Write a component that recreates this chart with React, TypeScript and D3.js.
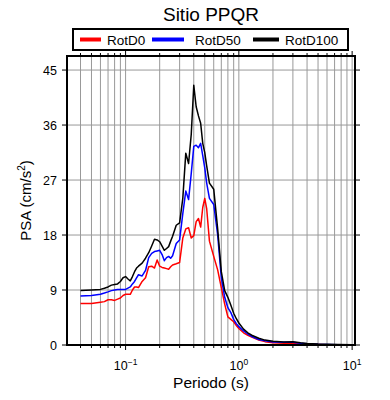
import * as d3 from 'd3'

// Periods (s)
const periods = [
  0.04, 0.05, 0.06, 0.065, 0.07, 0.075, 0.08, 0.085, 0.09, 0.095,
  0.1, 0.105, 0.11, 0.115, 0.12, 0.125, 0.13, 0.14, 0.15, 0.16,
  0.17, 0.18, 0.19, 0.2, 0.21, 0.22, 0.23, 0.24, 0.25, 0.26,
  0.28, 0.3, 0.32, 0.34, 0.36, 0.38, 0.4, 0.42, 0.44, 0.46,
  0.48, 0.5, 0.52, 0.55, 0.6, 0.65, 0.7, 0.75, 0.8, 0.85,
  0.9, 0.95, 1.0, 1.1, 1.2, 1.3, 1.5, 1.7, 2.0, 2.5,
  3.0, 3.5, 4.0, 5.0, 6.0, 7.5, 10,
]

const rotD0 = [
  6.8, 6.8, 7.0, 7.1, 7.4, 7.4, 7.3, 7.5, 7.7, 8.1,
  8.3, 8.3, 8.3, 9.0, 9.5, 9.5, 9.4, 10.4, 11.0, 12.8,
  12.9, 12.6, 13.9, 12.9, 12.7, 12.6, 12.5, 12.4, 12.8, 13.1,
  13.3, 13.5, 17.5, 19.0, 19.2, 17.5, 17.9, 20.2, 20.7, 19.3,
  22.5, 24.0, 22.3, 17.0, 14.5, 12.3, 9.4, 6.7, 4.6, 4.2,
  3.8, 3.2, 2.7, 2.0, 1.6, 1.3, 0.8, 0.55, 0.35, 0.3,
  0.3, 0.2, 0.12, 0.08, 0.06, 0.04, 0.03,
]

const rotD50 = [
  8.0, 8.1, 8.3, 8.5, 8.7, 8.9, 9.0, 9.1, 9.1, 9.1,
  9.1, 9.3, 9.5, 10.0, 10.4, 11.0, 11.5, 11.3, 12.2, 14.3,
  15.0, 15.3, 15.4, 15.5, 14.8, 13.8, 14.3, 14.5, 14.2, 14.6,
  16.6, 17.2, 21.5, 25.2, 23.8, 28.1, 32.5, 32.7, 32.3, 33.0,
  31.0, 29.0, 26.5, 24.0, 23.0, 18.0, 11.0, 7.8, 6.1, 5.3,
  4.2, 3.5, 3.0, 2.3, 1.8, 1.4, 0.9, 0.7, 0.5, 0.45,
  0.45, 0.3, 0.2, 0.12, 0.1, 0.06, 0.04,
]

const rotD100 = [
  8.9, 9.0, 9.1, 9.3, 9.5, 9.8, 9.9, 10.0, 10.4, 11.0,
  11.2, 10.8, 10.5, 11.2, 12.0, 12.6, 12.9, 13.4, 14.2, 15.1,
  16.2, 17.3, 17.2, 16.9, 16.2, 15.5, 15.8, 16.1, 17.0, 17.8,
  19.6, 20.0, 24.0, 31.4, 29.7, 34.5, 42.5, 39.0, 37.5, 36.3,
  33.0, 31.5, 29.3, 26.5, 25.5, 19.0, 12.0, 8.9, 7.8, 6.5,
  5.2, 4.3, 3.6, 2.6, 2.0, 1.6, 1.1, 0.8, 0.6, 0.5,
  0.55, 0.35, 0.25, 0.15, 0.12, 0.08, 0.05,
]

const seriesNames = ['RotD0', 'RotD50', 'RotD100']
const seriesColors = ['#ff0000', '#0000ff', '#000000']
const seriesValues = [rotD0, rotD50, rotD100]

const yTicks = [0, 9, 18, 27, 36, 45]
const xDecades = [0.1, 1, 10]
const decadeExp = ['\u22121', '0', '1']

const W = 390
const H = 400
const margin = { top: 56, right: 35, bottom: 55, left: 67 }
const font = '"Liberation Sans", Arial, Helvetica, sans-serif'

export default function App() {
  const iw = W - margin.left - margin.right
  const ih = H - margin.top - margin.bottom

  const x = d3.scaleLog().domain([0.0304, 10.6]).range([0, iw])
  const y = d3.scaleLinear().domain([0, 47.3]).range([ih, 0])

  // minor grid positions 1..9 per decade inside the domain
  const gridX: number[] = []
  for (const base of [0.01, 0.1, 1, 10]) {
    for (let k = 1; k <= 9; k++) {
      const v = base * k
      if (v >= 0.0304 && v <= 10.6) gridX.push(v)
    }
  }

  const line = d3.line<number>()
    .x((_, i) => x(periods[i]))
    .y(d => y(d))

  const legendItems = [
    { x0: 80, x1: 101, tx: 107 },
    { x0: 152, x1: 184, tx: 195 },
    { x0: 253, x1: 279, tx: 285 },
  ]

  return (
    <svg width={W} height={H} style={{ position: 'absolute', left: 0, top: 0 }} fontFamily={font}>
      <rect width={W} height={H} fill="#fff" />
      <text x={margin.left + iw / 2} y={21} textAnchor="middle" fontSize={19}>Sitio PPQR</text>

      {/* legend */}
      <rect x={73} y={29} width={275} height={21} fill="#fff" stroke="#000" strokeWidth={2} />
      {seriesNames.map((n, i) => (
        <g key={n}>
          <line x1={legendItems[i].x0} x2={legendItems[i].x1} y1={39.5} y2={39.5}
            stroke={seriesColors[i]} strokeWidth={4} />
          <text x={legendItems[i].tx} y={44.5} fontSize={13.5}>{n}</text>
        </g>
      ))}

      <g transform={`translate(${margin.left},${margin.top})`}>
        {/* grid */}
        {gridX.map(v => (
          <line key={'gx' + v} x1={x(v)} x2={x(v)} y1={0} y2={ih} stroke="#999" strokeWidth={1} />
        ))}
        {yTicks.filter(t => t > 0).map(t => (
          <line key={'gy' + t} x1={0} x2={iw} y1={y(t)} y2={y(t)} stroke="#999" strokeWidth={1} />
        ))}

        {/* series */}
        <g fill="none" strokeWidth={1.5} strokeLinejoin="round">
          {seriesValues.map((vals, i) => (
            <path key={seriesNames[i]} d={line(vals) ?? ''} stroke={seriesColors[i]} />
          ))}
        </g>

        {/* ticks outward on all sides */}
        {gridX.map(v => {
          const major = xDecades.includes(v)
          const len = major ? 5 : 3
          return (
            <g key={'tx' + v} stroke="#000" strokeWidth={1}>
              <line x1={x(v)} x2={x(v)} y1={ih} y2={ih + len} />
              <line x1={x(v)} x2={x(v)} y1={0} y2={-len} />
            </g>
          )
        })}
        {yTicks.map(t => (
          <g key={'ty' + t} stroke="#000" strokeWidth={1}>
            <line x1={-5} x2={0} y1={y(t)} y2={y(t)} />
            <line x1={iw} x2={iw + 5} y1={y(t)} y2={y(t)} />
          </g>
        ))}

        {/* frame */}
        <rect x={0} y={0} width={iw} height={ih} fill="none" stroke="#000" strokeWidth={2} />

        {/* y tick labels */}
        {yTicks.map(t => (
          <text key={'yl' + t} x={-10} y={y(t)} dy="0.36em" textAnchor="end" fontSize={12.5}>{t}</text>
        ))}

        {/* x tick labels */}
        {xDecades.map((v, i) => (
          <text key={'xl' + v} x={x(v)} y={ih + 25} textAnchor="middle" fontSize={12.5}>
            10<tspan fontSize={8.5} dy={-5}>{decadeExp[i]}</tspan>
          </text>
        ))}

        <text x={iw / 2} y={ih + 43} textAnchor="middle" fontSize={15.5}>Periodo (s)</text>
        <text transform={`translate(${-36},${ih / 2}) rotate(-90)`} textAnchor="middle" fontSize={15}>
          PSA (cm/s<tspan fontSize={10} dy={-6}>2</tspan><tspan dy={6}>)</tspan>
        </text>
      </g>
    </svg>
  )
}
